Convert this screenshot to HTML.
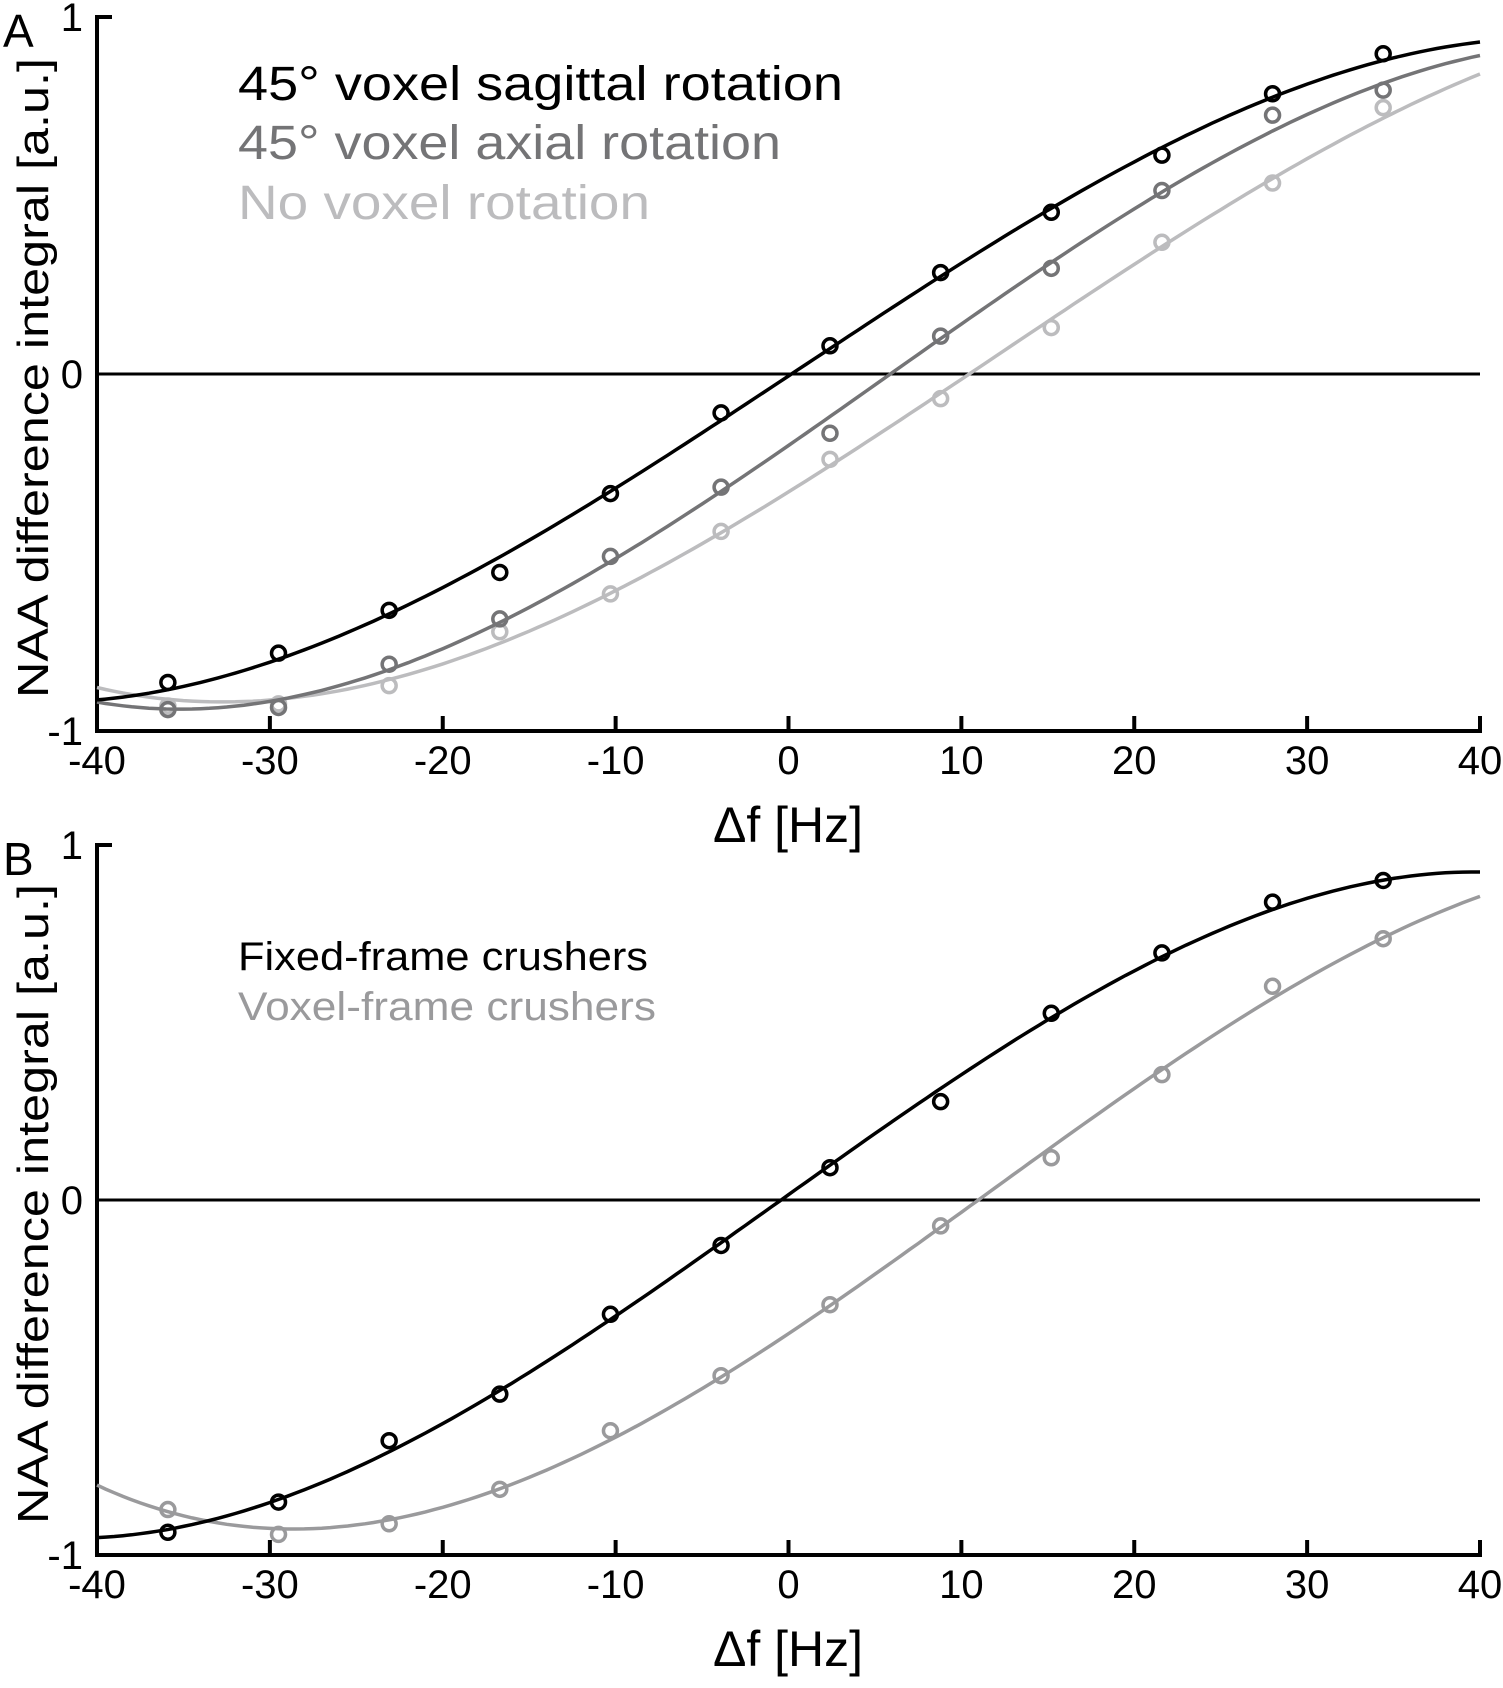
<!DOCTYPE html>
<html><head><meta charset="utf-8">
<style>
html,body{margin:0;padding:0;background:#fff;}
svg{display:block;font-family:"Liberation Sans",sans-serif;}
</style></head>
<body>
<svg id="fig" width="1503" height="1688" viewBox="0 0 1503 1688" xmlns="http://www.w3.org/2000/svg"></svg>
<script>
// ---- data ----
const freqs = [-35.9,-29.5,-23.1,-16.7,-10.3,-3.9,2.4,8.8,15.2,21.6,28.0,34.4];
const xTicks = [-40,-30,-20,-10,0,10,20,30,40];
const xTickLabels = ["-40","-30","-20","-10","0","10","20","30","40"];
const yTicks = [-1,0,1];
const yTickLabels = ["-1","0","1"];
// panel A measured points
const aSagittal = [-0.864,-0.782,-0.662,-0.556,-0.335,-0.109,0.079,0.284,0.453,0.613,0.785,0.897];
const aAxial    = [-0.94,-0.934,-0.813,-0.686,-0.511,-0.317,-0.166,0.106,0.296,0.514,0.725,0.795];
const aNone     = [-0.93,-0.924,-0.873,-0.722,-0.616,-0.441,-0.239,-0.069,0.130,0.369,0.535,0.746];
// panel B measured points
const bFixed = [-0.936,-0.851,-0.678,-0.547,-0.322,-0.128,0.091,0.277,0.526,0.696,0.839,0.900];
const bVoxel = [-0.872,-0.942,-0.912,-0.815,-0.650,-0.495,-0.295,-0.073,0.119,0.353,0.602,0.736];
// fit-curve values at the axis ends (-40 Hz, +40 Hz)
const endSagittal = [-0.918, 0.927];
const endAxial    = [-0.918, 0.891];
const endNone     = [-0.873, 0.837];
const endFixed    = [-0.951, 0.921];
const endVoxel    = [-0.802, 0.854];

const NS = "http://www.w3.org/2000/svg";
const svg = document.getElementById('fig');
function mk(tag, attrs, parent){
  const e = document.createElementNS(NS, tag);
  for (const k in attrs) e.setAttribute(k, attrs[k]);
  (parent||svg).appendChild(e);
  return e;
}
// weighted least-squares cubic fit
function cubicFit(xs, ys, ws){
  const n=4, M=[...Array(n)].map(()=>Array(n+1).fill(0));
  xs.forEach((x0,i)=>{
    const x=x0/40, p=[1,x,x*x,x*x*x], w=ws[i];
    for(let r=0;r<n;r++){ for(let c=0;c<n;c++) M[r][c]+=w*p[r]*p[c]; M[r][n]+=w*p[r]*ys[i]; }
  });
  for(let i=0;i<n;i++){
    let piv=i; for(let r=i+1;r<n;r++) if(Math.abs(M[r][i])>Math.abs(M[piv][i])) piv=r;
    [M[i],M[piv]]=[M[piv],M[i]];
    for(let r=0;r<n;r++){ if(r===i) continue; const f=M[r][i]/M[i][i]; for(let c=i;c<=n;c++) M[r][c]-=f*M[i][c]; }
  }
  const co=M.map((row,i)=>row[n]/row[i]);
  return f=>{const x=f/40; return co[0]+co[1]*x+co[2]*x*x+co[3]*x*x*x;};
}

function panel(cfg){
  const g = mk('g', {});
  
  
  const x0=97, x1=1480, yT=cfg.top, yB=cfg.bottom;
  const sx = v => x0 + (v+40)/80*(x1-x0);
  const sy = v => yB - (v+1)/2*(yB-yT);
  const zl = mk('line',{x1:x0,x2:x1,y1:sy(0),y2:sy(0),stroke:'#000','stroke-width':3},g);
  
  
  const ax = mk('path',{d:`M${x0+15},${yT} H${x0} V${yB} H${x1} V${yB-15}`,fill:'none',stroke:'#000','stroke-width':4},g);
  
  
  xTicks.forEach((t,i)=>{
    const tk = mk('line',{x1:sx(t),x2:sx(t),y1:yB,y2:yB-15,stroke:'#000','stroke-width':4},g);
    
    
    const tl = mk('text',{x:sx(t),y:yB+43,'text-anchor':'middle','font-size':40},g);
    tl.textContent = xTickLabels[i];
    
    
  });
  yTicks.forEach((t,i)=>{
    const tl = mk('text',{x:83,y:sy(t)+14,'text-anchor':'end','font-size':40},g);
    tl.textContent = yTickLabels[i];
    
    
  });
  const xl = mk('text',{x:788,y:yB+111,'text-anchor':'middle','font-size':50},g);
  xl.textContent='Δf [Hz]';
  
  
  const yc=(yT+yB)/2+4;
  const yl = mk('text',{x:0,y:0,'text-anchor':'middle','font-size':44,transform:`translate(48,${yc}) rotate(-90)`,textLength:640,lengthAdjust:'spacingAndGlyphs'},g);
  yl.textContent='NAA difference integral [a.u.]';
  
  
  const pl = mk('text',{x:3,y:yT+30,'font-size':46},g);
  pl.textContent=cfg.label;
  
  
  cfg.series.forEach(s=>{
    const xs=[-40,...freqs,40], ys=[s.ends[0],...s.vals,s.ends[1]];
    const ws=xs.map((x,i)=>(i===0||i===xs.length-1)?4:1);
    const fn=cubicFit(xs,ys,ws);
    let d='';
    for(let f=-40; f<=40.001; f+=0.5){
      d+=(d?'L':'M')+sx(f).toFixed(1)+','+sy(fn(f)).toFixed(1);
    }
    const c = mk('path',{d:d,fill:'none',stroke:s.color,'stroke-width':3.5},g);
    
    
    s.vals.forEach((v,i)=>{
      const p = mk('circle',{cx:sx(freqs[i]),cy:sy(v),r:7,fill:'none',stroke:s.color,'stroke-width':3.5},g);
      
      
    });
  });
  cfg.legend.forEach(l=>{
    const t = mk('text',{x:238,y:l.y,'font-size':l.fs,fill:l.color,textLength:l.w,lengthAdjust:'spacingAndGlyphs'},g);
    t.textContent=l.text;
    
    
  });
}

panel({name:'panel-a',label:'A',top:17,bottom:731,
  series:[
    {key:'none',vals:aNone,ends:endNone,color:'#bcbcbe'},
    {key:'axial',vals:aAxial,ends:endAxial,color:'#747476'},
    {key:'sagittal',vals:aSagittal,ends:endSagittal,color:'#000'}],
  legend:[
    {text:'45° voxel sagittal rotation',y:100,fs:48,w:605,color:'#000'},
    {text:'45° voxel axial rotation',y:159,fs:48,w:543,color:'#747476'},
    {text:'No voxel rotation',y:219,fs:48,w:412,color:'#bcbcbe'}]
});
panel({name:'panel-b',label:'B',top:845,bottom:1555,
  series:[
    {key:'voxel-frame',vals:bVoxel,ends:endVoxel,color:'#9a9a9c'},
    {key:'fixed-frame',vals:bFixed,ends:endFixed,color:'#000'}],
  legend:[
    {text:'Fixed-frame crushers',y:970,fs:40,w:410,color:'#000'},
    {text:'Voxel-frame crushers',y:1020,fs:40,w:418,color:'#9a9a9c'}]
});
</script>
</body></html>
